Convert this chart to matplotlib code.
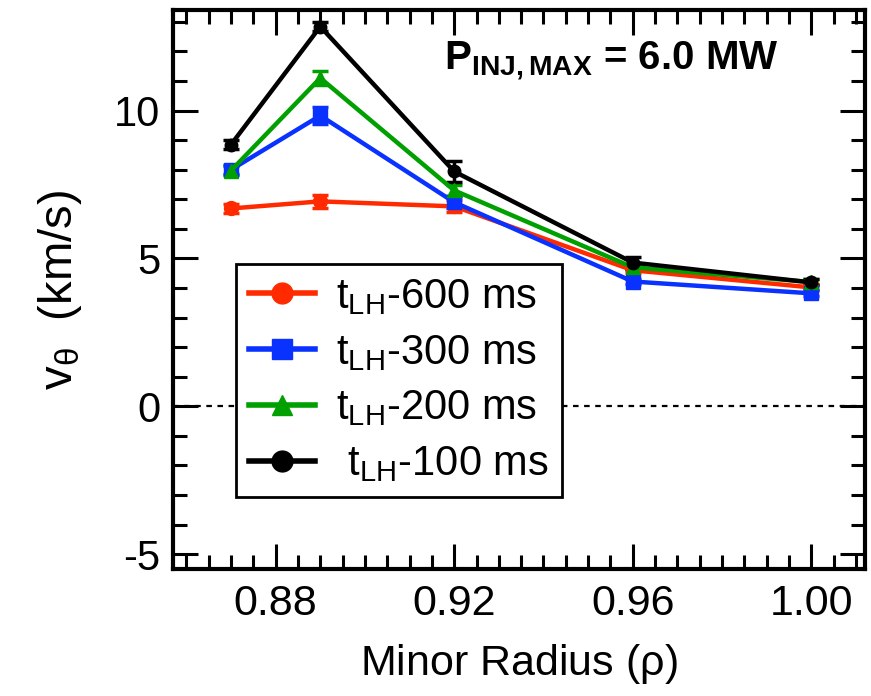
import numpy as np
import matplotlib
matplotlib.use('Agg')
import matplotlib.pyplot as plt
from matplotlib.lines import Line2D
from matplotlib.ticker import MultipleLocator

# radial positions and poloidal rotation profiles
rho = [0.87, 0.89, 0.92, 0.96, 1.00]

v_600 = [6.69, 6.93, 6.76, 4.60, 4.02]
v_300 = [8.00, 9.83, 6.90, 4.22, 3.82]
v_200 = [7.97, 11.10, 7.30, 4.70, 4.20]
v_100 = [8.85, 12.84, 7.94, 4.86, 4.19]

err_600 = [0.15, 0.22, 0.20, 0.10, 0.10]
err_300 = [0.15, 0.30, 0.20, 0.10, 0.10]
err_200 = [0.15, 0.25, 0.20, 0.10, 0.10]
err_100 = [0.15, 0.15, 0.35, 0.20, 0.10]

labels = [r'$\mathregular{t_{LH}}$-600 ms', r'$\mathregular{t_{LH}}$-300 ms',
          r'$\mathregular{t_{LH}}$-200 ms', r' $\mathregular{t_{LH}}$-100 ms']

plt.rcParams['font.family'] = ['Liberation Sans', 'DejaVu Sans']
plt.rcParams['mathtext.fontset'] = 'custom'
plt.rcParams['mathtext.rm'] = 'Liberation Sans'
plt.rcParams['mathtext.bf'] = 'Liberation Sans:bold'
plt.rcParams['axes.unicode_minus'] = False

fig = plt.figure(figsize=(8.71, 6.96), dpi=100)
ax = fig.add_axes([0.1986, 0.1825, 0.7944, 0.8031])

ax.axhline(0, color='black', lw=1.6, ls=(0, (2.5, 2.5)), zorder=1)

series = [
    (v_600, err_600, '#ff2a00', 'o', 10, 15),
    (v_300, err_300, '#0a32ff', 's', 9.5, 14),
    (v_200, err_200, '#00a000', '^', 10, 15),
    (v_100, err_100, 'black', 'o', 9, 15),
]
handles = []
for (v, e, c, m, ms, lms), lab in zip(series, labels):
    ax.errorbar(rho, v, yerr=e, color=c, marker=m, ms=ms, lw=3.2,
                elinewidth=2.5, capsize=6, capthick=2.5, zorder=3)
    handles.append(Line2D([], [], color=c, marker=m, ms=lms, lw=4, label=lab))

ax.set_xlim(0.857, 1.012)
ax.set_ylim(-5.5, 13.4)
ax.xaxis.set_minor_locator(MultipleLocator(0.005))
ax.yaxis.set_major_locator(MultipleLocator(5))
ax.yaxis.set_minor_locator(MultipleLocator(1))
ax.set_xticks([0.88, 0.92, 0.96, 1.00])
ax.set_xticklabels(['0.88', '0.92', '0.96', '1.00'])

ax.tick_params(which='both', direction='in', top=True, right=True, width=2.2)
ax.tick_params(which='major', length=18)
ax.tick_params(which='minor', length=10)
ax.tick_params(axis='x', labelsize=31, pad=11)
ax.tick_params(axis='y', labelsize=30, pad=9)
for sp in ax.spines.values():
    sp.set_linewidth(3)

ax.set_xlabel(r'Minor Radius ($\mathregular{\rho}$)', fontsize=31, labelpad=13)
ax.set_ylabel(r'v$_\mathregular{\theta}$  (km/s)', fontsize=34, labelpad=22)

ax.text(0.634, 0.91, r'P$_{\mathbf{INJ,MAX}}$ = 6.0 MW', transform=ax.transAxes,
        fontsize=29, fontweight='bold', ha='center', va='center')

leg = ax.legend(handles=handles, loc='upper left', bbox_to_anchor=(0.0915, 0.545),
                fontsize=30, frameon=True, fancybox=False, edgecolor='black',
                framealpha=1, handlelength=1.6, handletextpad=0.5,
                borderpad=0.3, labelspacing=0.38, borderaxespad=0)
leg.get_frame().set_linewidth(2)

fig.savefig('out.png', dpi=100)
